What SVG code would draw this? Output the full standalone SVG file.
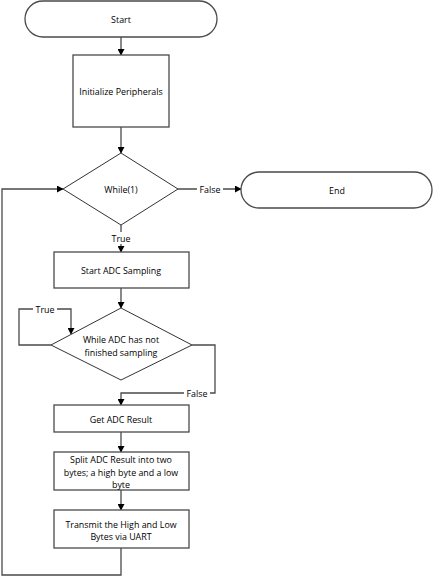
<svg xmlns="http://www.w3.org/2000/svg" width="433" height="577" viewBox="0 0 433 577">
<style>
.s{fill:#fff;stroke:#4a4a4a;stroke-width:1.3}
.d{fill:#fff;stroke:#333;stroke-width:1}
.c{fill:none;stroke:#4a4a4a;stroke-width:1.3}
text{font-family:"Open Sans","Liberation Sans",sans-serif;font-size:8.9px;fill:#000;text-anchor:middle;dominant-baseline:central}
.lb{fill:#fff}
</style>
<defs>
<marker id="a" markerWidth="7" markerHeight="7" refX="6" refY="3.5" orient="auto" markerUnits="userSpaceOnUse">
<path d="M0,0 L6.5,3.5 L0,7 Z" fill="#000"/>
</marker>
</defs>
<g id="connectors">
<path class="c" d="M121,37 V55" marker-end="url(#a)"/>
<path class="c" d="M121,127 V153" marker-end="url(#a)"/>
<path class="c" d="M178,189 H241" marker-end="url(#a)"/>
<path class="c" d="M121,225 V252" marker-end="url(#a)"/>
<path class="c" d="M121,288 V308" marker-end="url(#a)"/>
<path class="c" d="M51,345 H19 V309 H71 V334" marker-end="url(#a)"/>
<path class="c" d="M192,345 H215 V393 H121 V405" marker-end="url(#a)"/>
<path class="c" d="M121,432 V452" marker-end="url(#a)"/>
<path class="c" d="M121,490 V510" marker-end="url(#a)"/>
<path class="c" d="M121,548 V575 H2 V189 H63" marker-end="url(#a)"/>
<rect class="lb" x="197" y="183" width="26" height="12"/>
<text x="210" y="189">False</text>
<rect class="lb" x="109" y="232" width="24" height="12"/>
<text x="121" y="238">True</text>
<rect class="lb" x="33" y="303" width="24" height="12"/>
<text x="45" y="309">True</text>
<rect class="lb" x="184" y="387" width="26" height="12"/>
<text x="197" y="393">False</text>
</g>
<g id="start">
<rect class="s" x="25" y="1" width="192" height="36" rx="18" ry="18"/>
<text x="121" y="19">Start</text>
</g>
<g id="init">
<rect class="s" x="73" y="55" width="96" height="72"/>
<text x="121" y="91">Initialize Peripherals</text>
</g>
<g id="while1">
<polygon class="d" points="121,153 178,189 121,225 63,189"/>
<text x="121" y="189">While(1)</text>
</g>
<g id="end">
<rect class="s" x="241" y="172" width="191" height="36" rx="18" ry="18"/>
<text x="337" y="190">End</text>
</g>
<g id="startadc">
<rect class="s" x="54" y="252" width="135" height="36"/>
<text x="121" y="270">Start ADC Sampling</text>
</g>
<g id="whileadc">
<polygon class="d" points="121,308 192,345 121,380 51,345"/>
<text x="121" y="339">While ADC has not</text>
<text x="121" y="352">finished sampling</text>
</g>
<g id="getadc">
<rect class="s" x="54" y="405" width="135" height="27"/>
<text x="121" y="419">Get ADC Result</text>
</g>
<g id="split">
<rect class="s" x="54" y="452" width="135" height="38"/>
<text x="121" y="459">Split ADC Result into two</text>
<text x="121" y="472">bytes; a high byte and a low</text>
<text x="121" y="484">byte</text>
</g>
<g id="transmit">
<rect class="s" x="54" y="510" width="135" height="38"/>
<text x="121" y="524">Transmit the High and Low</text>
<text x="121" y="536">Bytes via UART</text>
</g>
</svg>
